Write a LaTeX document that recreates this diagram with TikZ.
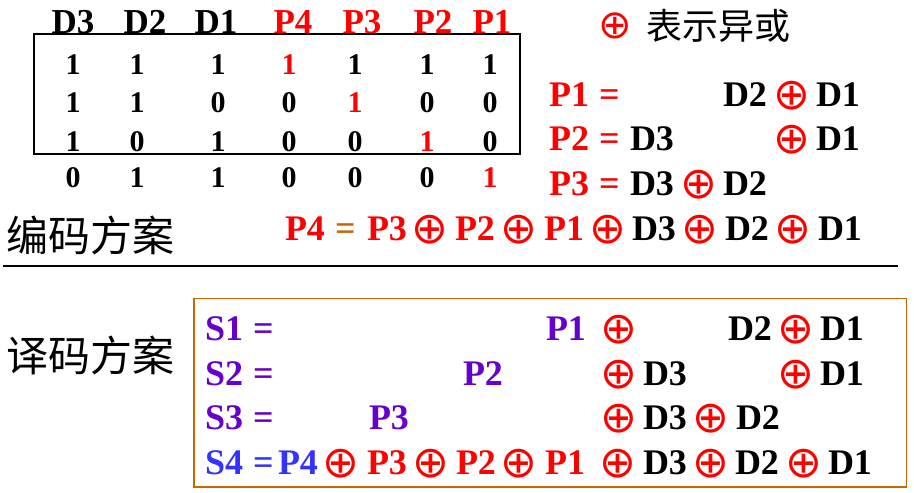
\documentclass[tikz,border=0pt]{standalone}
\usepackage{fontspec}
\setmainfont{Liberation Serif}
\newfontfamily\cjk{Noto Sans CJK SC}
\newfontfamily\symf{DejaVu Sans}
\usetikzlibrary{positioning}
\colorlet{myred}{red}
\definecolor{myviolet}{HTML}{6600CC}
\definecolor{myblue}{HTML}{3333FF}
\definecolor{myorange}{HTML}{CC6600}
\newcommand{\xo}{{\symf\mdseries ⊕}}
\tikzset{
	tok/.style={inner sep=0, outer sep=0, anchor=base west,
		font=\bfseries\fontsize{36}{40}\selectfont},
	dbit/.style={tok, text=black},
	pbit/.style={tok, text=myred},
	xorop/.style={tok, text=myred, font=\fontsize{44}{48}\selectfont, xshift=-6pt, yshift=-3pt},
	eqo/.style={tok, text=myorange},
	syn/.style={tok, text=myviolet},
	synb/.style={tok, text=myblue},
	head/.style={inner sep=0, anchor=base, font=\bfseries\fontsize{35}{40}\selectfont},
	cell/.style={inner sep=0, anchor=base, font=\bfseries\fontsize{30}{34}\selectfont},
	title/.style={inner sep=0, anchor=west, font=\cjk\fontsize{42}{46}\selectfont},
}
\begin{document}
\begin{tikzpicture}[x=1pt, y=-1pt]
	\useasboundingbox (0,0) rectangle (914,493);
	% Column heads
	\foreach \x/\t/\c [count=\i] in {73/D3/black, 145/D2/black, 216/D1/black, 293/P4/myred, 362/P3/myred, 433/P2/myred, 492/P1/myred}
		\node[head, text=\c] (h\i) at (\x,33) {\t};
	% Code word table
	\draw[line width=1.2pt] (34,34) rectangle (520,154);
	\foreach \row [count=\r] in {{1,1,1,1,1,1,1},{1,1,0,0,1,0,0},{1,0,1,0,0,1,0},{0,1,1,0,0,0,1}}
		\foreach \v [count=\c] in \row {
			\pgfmathsetmacro\cx{{73,137,218,289,355,427,490}[\c-1]}
			\pgfmathsetmacro\cy{{74,112,151,187}[\r-1]}
			\ifnum\c=\numexpr\r+3\relax\def\dc{myred}\else\def\dc{black}\fi
			\node[cell, text=\dc] (b\r\c) at (\cx,\cy) {\v};
		}
	% Key
	\node[inner sep=0, text=myred, font=\fontsize{40}{44}\selectfont] (xorkey) at (615.5,25.5) {\xo};
	\node[title, font=\cjk\fontsize{36}{40}\selectfont, right=14pt of xorkey] (key) {表示异或};
	% Encoding equations
	\foreach \x/\s/\t [count=\i] in {549/pbit/P1, 599/pbit/=, 723/dbit/D2, 779/xorop/\xo, 816/dbit/D1}
		\node[\s] (pa\i) at (\x,106) {\t};
	\foreach \x/\s/\t [count=\i] in {549/pbit/P2, 599/pbit/=, 630/dbit/D3, 779/xorop/\xo, 816/dbit/D1}
		\node[\s] (pb\i) at (\x,150) {\t};
	\foreach \x/\s/\t [count=\i] in {549/pbit/P3, 599/pbit/=, 630/dbit/D3, 686/xorop/\xo, 723/dbit/D2}
		\node[\s] (pc\i) at (\x,195) {\t};
	\foreach \x/\s/\t [count=\i] in {285/pbit/P4, 335/eqo/=, 367/pbit/P3, 417/xorop/\xo, 455/pbit/P2, 506/xorop/\xo, 544/pbit/P1, 595/xorop/\xo, 632/dbit/D3, 687/xorop/\xo, 725/dbit/D2, 780/xorop/\xo, 818/dbit/D1}
		\node[\s] (pd\i) at (\x,240) {\t};
	\node[title] (enc) at (6,235.5) {编码方案};
	% Separator
	\draw[line width=1.2pt] (3,266) -- (898,266);
	% Decoding equations
	\node[title] (dec) at (6,355) {译码方案};
	\draw[myorange, line width=1.2pt] (194,298.5) rectangle (906.5,487);
	\foreach \x/\s/\t [count=\i] in {205/syn/S1, 253/syn/=, 546/syn/P1, 606/xorop/\xo, 728/dbit/D2, 783/xorop/\xo, 820/dbit/D1}
		\node[\s] (sa\i) at (\x,340) {\t};
	\foreach \x/\s/\t [count=\i] in {205/syn/S2, 253/syn/=, 463/syn/P2, 606/xorop/\xo, 643/dbit/D3, 783/xorop/\xo, 820/dbit/D1}
		\node[\s] (sb\i) at (\x,385) {\t};
	\foreach \x/\s/\t [count=\i] in {205/syn/S3, 253/syn/=, 369/syn/P3, 606/xorop/\xo, 643/dbit/D3, 698/xorop/\xo, 736/dbit/D2}
		\node[\s] (sc\i) at (\x,429) {\t};
	\foreach \x/\s/\t [count=\i] in {205/synb/S4, 253/synb/=, 278/synb/P4, 328/xorop/\xo, 367/pbit/P3, 418/xorop/\xo, 456/pbit/P2, 506/xorop/\xo, 545/pbit/P1, 605/xorop/\xo, 643/dbit/D3, 698/xorop/\xo, 735/dbit/D2, 791/xorop/\xo, 828/dbit/D1}
		\node[\s] (sd\i) at (\x,474) {\t};
\end{tikzpicture}
\end{document}
